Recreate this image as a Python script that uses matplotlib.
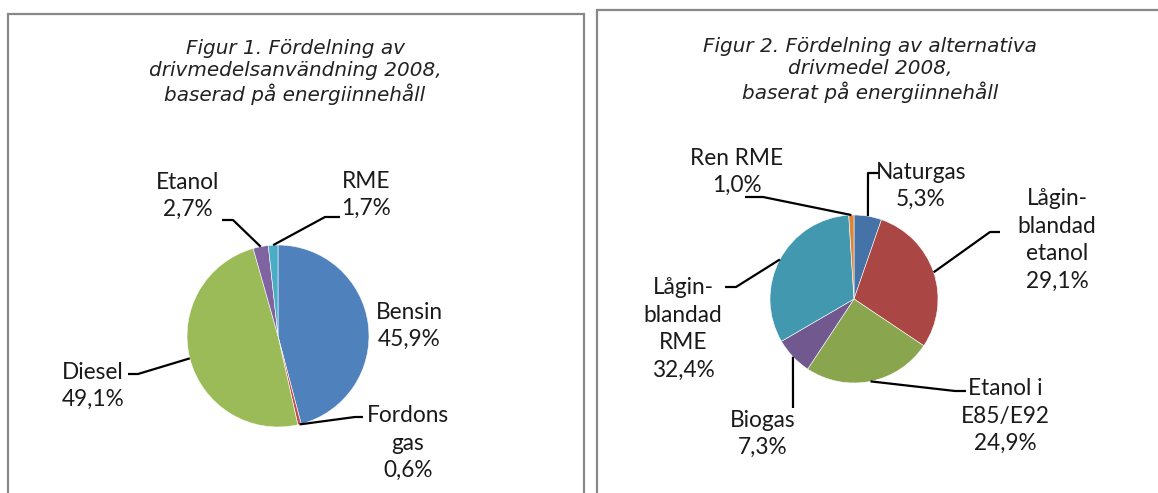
import matplotlib
matplotlib.use("Agg")
import matplotlib.pyplot as plt
from matplotlib.patches import Rectangle
import numpy as np

# data
left_names = ["Bensin", "Fordons\ngas", "Diesel", "Etanol", "RME"]
left_vals = [45.9, 0.6, 49.1, 2.7, 1.7]
left_colors = ["#4F81BD", "#C0504D", "#9BBB59", "#8064A2", "#4BACC6"]
left_title = "Figur 1. Fördelning av\ndrivmedelsanvändning 2008,\nbaserad på energiinnehåll"

right_names = ["Naturgas", "Lågin-\nblandad\netanol", "Etanol i\nE85/E92", "Biogas",
               "Lågin-\nblandad\nRME", "Ren RME"]
right_vals = [5.3, 29.1, 24.9, 7.3, 32.4, 1.0]
right_colors = ["#4572A7", "#AA4643", "#89A54E", "#71588F", "#4198AF", "#DB843D"]
right_title = "Figur 2. Fördelning av alternativa\ndrivmedel 2008,\nbaserat på energiinnehåll"

W, H = 1158, 493

# layout in image pixels (y from top)
left_center, left_r = (278, 336), 91
right_center, right_r = (854, 299), 84
left_lbl = [(409, 326), (408, 443), (93, 386), (188, 196), (366, 195)]
left_lead = [None, [(355, 417), (363, 417)], [(138, 374), (128, 374)],
             [(233, 220), (222, 220)], [(325, 217), (340, 217)]]
right_lbl = [(921, 186), (1057, 240), (1005, 416), (763, 434), (683, 329), (737, 172)]
right_lead = [[(868, 173), (880, 173)], [(990, 232), (1000, 232)],
              [(955, 391), (966, 391)], [(793, 408), (793, 408)],
              [(736, 287), (725, 287)], [(763, 197), (745, 197)]]

fig = plt.figure(figsize=(W / 100, H / 100), dpi=100)
ax = fig.add_axes([0, 0, 1, 1])


def Y(y):
    return H - y


def draw_pie(vals, names, colors, center, r, lbls, leads, title, title_x, title_y):
    wedges, _ = ax.pie(vals, colors=colors, startangle=90, counterclock=False,
                       center=(center[0], Y(center[1])), radius=r,
                       wedgeprops=dict(edgecolor="white", linewidth=0.4))
    for w, name, v, (lx, ly), lead in zip(wedges, names, vals, lbls, leads):
        ax.text(lx, Y(ly), name + "\n" + f"{v:.1f}".replace(".", ",") + "%",
                ha="center", va="center", fontsize=16.3, family="Lato",
                color="#1a1a1a", linespacing=1.38)
        if lead is None:
            continue
        ang = np.deg2rad((w.theta1 + w.theta2) / 2)
        px = center[0] + r * np.cos(ang)
        py = Y(center[1]) + r * np.sin(ang)
        xs = [px] + [p[0] for p in lead]
        ys = [py] + [Y(p[1]) for p in lead]
        ax.plot(xs, ys, color="black", lw=1.6, solid_capstyle="butt")
    ax.text(title_x, Y(title_y), title, ha="center", va="center", fontsize=14.4,
            style="italic", family="DejaVu Sans", color="#222222", linespacing=1.22)


draw_pie(left_vals, left_names, left_colors, left_center, left_r,
         left_lbl, left_lead, left_title, 295, 72)
draw_pie(right_vals, right_names, right_colors, right_center, right_r,
         right_lbl, right_lead, right_title, 870, 70)

# box borders
ax.add_patch(Rectangle((8, -20), 576, Y(14) + 20, fill=False, ec="#888888", lw=1.6))
ax.add_patch(Rectangle((597, -20), 600, Y(10) + 20, fill=False, ec="#888888", lw=1.6))

ax.set_xlim(0, W)
ax.set_ylim(0, H)
ax.set_aspect("auto")
ax.axis("off")

fig.savefig("out.png", dpi=100, facecolor="white")
